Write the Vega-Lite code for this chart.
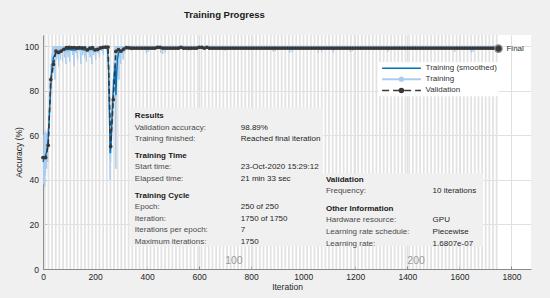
{
 "$schema": "https://vega.github.io/schema/vega-lite/v6.json",
 "width": 488, "height": 234,
 "autosize": {"type": "none"},
 "padding": {"left": 43, "top": 35, "right": 19, "bottom": 29},
 "background": "#f0f0f0",
 "title": {"text": "Training Progress", "anchor": "start", "frame": "group", "dx": 141, "offset": 15, "fontSize": 9.5, "fontWeight": "bold", "font": "Liberation Sans", "color": "#1a1a1a"},
 "config": {
  "view": {"stroke": null, "fill": "#ffffff"},
  "axis": {"labelFont": "Liberation Sans", "labelFontSize": 8.5, "labelColor": "#262626", "titleFont": "Liberation Sans", "titleFontSize": 8.5, "titleFontWeight": "normal", "titleColor": "#262626", "domainColor": "#8a8a8a", "tickColor": "#8a8a8a", "gridColor": "#e0e0e0", "tickSize": -3}
 },
 "datasets": {
  "stripes": [{"x":7},{"x":21},{"x":35},{"x":49},{"x":63},{"x":77},{"x":91},{"x":105},{"x":119},{"x":133},{"x":147},{"x":161},{"x":175},{"x":189},{"x":203},{"x":217},{"x":231},{"x":245},{"x":259},{"x":273},{"x":287},{"x":301},{"x":315},{"x":329},{"x":343},{"x":357},{"x":371},{"x":385},{"x":399},{"x":413},{"x":427},{"x":441},{"x":455},{"x":469},{"x":483},{"x":497},{"x":511},{"x":525},{"x":539},{"x":553},{"x":567},{"x":581},{"x":595},{"x":609},{"x":623},{"x":637},{"x":651},{"x":665},{"x":679},{"x":693},{"x":707},{"x":721},{"x":735},{"x":749},{"x":763},{"x":777},{"x":791},{"x":805},{"x":819},{"x":833},{"x":847},{"x":861},{"x":875},{"x":889},{"x":903},{"x":917},{"x":931},{"x":945},{"x":959},{"x":973},{"x":987},{"x":1001},{"x":1015},{"x":1029},{"x":1043},{"x":1057},{"x":1071},{"x":1085},{"x":1099},{"x":1113},{"x":1127},{"x":1141},{"x":1155},{"x":1169},{"x":1183},{"x":1197},{"x":1211},{"x":1225},{"x":1239},{"x":1253},{"x":1267},{"x":1281},{"x":1295},{"x":1309},{"x":1323},{"x":1337},{"x":1351},{"x":1365},{"x":1379},{"x":1393},{"x":1407},{"x":1421},{"x":1435},{"x":1449},{"x":1463},{"x":1477},{"x":1491},{"x":1505},{"x":1519},{"x":1533},{"x":1547},{"x":1561},{"x":1575},{"x":1589},{"x":1603},{"x":1617},{"x":1631},{"x":1645},{"x":1659},{"x":1673},{"x":1687},{"x":1701},{"x":1715},{"x":1729},{"x":1743}],
  "panels": [{"x": 335, "x2": 1076, "y": 10.2, "y2": 72.5}, {"x": 1076, "x2": 1690, "y": 10.2, "y2": 42.9}],
  "legendbox": [{"x": 1290, "x2": 1750, "y": 77.5, "y2": 92.8}],
  "train": [{"x":0,"y":45},{"x":1,"y":38},{"x":2,"y":52},{"x":3,"y":41},{"x":4,"y":60},{"x":5,"y":44},{"x":6,"y":55},{"x":7,"y":37},{"x":8,"y":62},{"x":9,"y":48},{"x":10,"y":42},{"x":11,"y":57},{"x":12,"y":50},{"x":13,"y":61},{"x":14,"y":45},{"x":15,"y":58},{"x":16,"y":52},{"x":17,"y":63},{"x":18,"y":48},{"x":19,"y":60},{"x":20,"y":56},{"x":21,"y":66},{"x":22,"y":60},{"x":23,"y":72},{"x":24,"y":68},{"x":25,"y":78},{"x":26,"y":74},{"x":27,"y":84},{"x":28,"y":80},{"x":29,"y":88},{"x":30,"y":85},{"x":31,"y":92},{"x":32,"y":86},{"x":33,"y":95},{"x":34,"y":90},{"x":35,"y":97},{"x":36,"y":92},{"x":37,"y":100},{"x":38,"y":94},{"x":39,"y":98},{"x":40,"y":88},{"x":41,"y":100},{"x":42,"y":96},{"x":43,"y":100},{"x":44,"y":93},{"x":45,"y":100},{"x":46,"y":85},{"x":47,"y":100},{"x":48,"y":97},{"x":49,"y":100},{"x":50,"y":95},{"x":52,"y":100},{"x":53,"y":94},{"x":55,"y":100},{"x":57,"y":96},{"x":58,"y":100},{"x":60,"y":91},{"x":61,"y":100},{"x":63,"y":98},{"x":65,"y":100},{"x":67,"y":94},{"x":68,"y":100},{"x":70,"y":97},{"x":72,"y":100},{"x":75,"y":93},{"x":76,"y":100},{"x":79,"y":98},{"x":80,"y":100},{"x":83,"y":95},{"x":84,"y":100},{"x":88,"y":92},{"x":89,"y":100},{"x":92,"y":97},{"x":93,"y":100},{"x":97,"y":95},{"x":98,"y":100},{"x":103,"y":93},{"x":104,"y":100},{"x":108,"y":98},{"x":110,"y":100},{"x":114,"y":96},{"x":115,"y":100},{"x":120,"y":91},{"x":121,"y":100},{"x":126,"y":97},{"x":127,"y":100},{"x":133,"y":94},{"x":134,"y":100},{"x":140,"y":98},{"x":141,"y":100},{"x":146,"y":92},{"x":147,"y":100},{"x":152,"y":96},{"x":153,"y":100},{"x":160,"y":95},{"x":161,"y":100},{"x":167,"y":93},{"x":168,"y":100},{"x":174,"y":97},{"x":175,"y":100},{"x":181,"y":95},{"x":182,"y":100},{"x":188,"y":92},{"x":189,"y":100},{"x":195,"y":96},{"x":196,"y":100},{"x":203,"y":94},{"x":204,"y":100},{"x":210,"y":97},{"x":211,"y":100},{"x":217,"y":95},{"x":218,"y":100},{"x":225,"y":98},{"x":226,"y":100},{"x":232,"y":96},{"x":233,"y":100},{"x":240,"y":100},{"x":245,"y":100},{"x":248,"y":98},{"x":250,"y":95},{"x":252,"y":88},{"x":254,"y":75},{"x":256,"y":60},{"x":257,"y":45},{"x":258,"y":40},{"x":259,"y":55},{"x":260,"y":48},{"x":261,"y":62},{"x":262,"y":52},{"x":263,"y":70},{"x":264,"y":58},{"x":265,"y":75},{"x":266,"y":65},{"x":267,"y":80},{"x":268,"y":72},{"x":269,"y":85},{"x":270,"y":78},{"x":271,"y":90},{"x":272,"y":82},{"x":273,"y":93},{"x":274,"y":86},{"x":275,"y":96},{"x":276,"y":90},{"x":277,"y":100},{"x":278,"y":88},{"x":279,"y":60},{"x":280,"y":45},{"x":281,"y":70},{"x":282,"y":92},{"x":283,"y":100},{"x":284,"y":95},{"x":285,"y":100},{"x":286,"y":90},{"x":287,"y":100},{"x":289,"y":96},{"x":290,"y":100},{"x":292,"y":85},{"x":293,"y":100},{"x":295,"y":95},{"x":296,"y":100},{"x":299,"y":92},{"x":300,"y":100},{"x":303,"y":97},{"x":304,"y":100},{"x":308,"y":94},{"x":309,"y":100},{"x":314,"y":97},{"x":315,"y":100},{"x":339,"y":100},{"x":340,"y":98},{"x":341,"y":100},{"x":396,"y":100},{"x":397,"y":96.8},{"x":398,"y":100},{"x":403,"y":100},{"x":404,"y":97.5},{"x":405,"y":100},{"x":451,"y":100},{"x":452,"y":97},{"x":453,"y":100},{"x":459,"y":100},{"x":460,"y":96.5},{"x":461,"y":100},{"x":469,"y":100},{"x":470,"y":97.3},{"x":471,"y":100},{"x":559,"y":100},{"x":560,"y":98},{"x":561,"y":100},{"x":699,"y":100},{"x":700,"y":98},{"x":701,"y":100},{"x":884,"y":100},{"x":885,"y":97.5},{"x":886,"y":100},{"x":892,"y":100},{"x":893,"y":97.8},{"x":894,"y":100},{"x":947,"y":100},{"x":948,"y":97},{"x":949,"y":100},{"x":957,"y":100},{"x":958,"y":97.3},{"x":959,"y":100},{"x":1057,"y":100},{"x":1058,"y":97},{"x":1059,"y":100},{"x":1069,"y":100},{"x":1070,"y":97.5},{"x":1071,"y":100},{"x":1114,"y":100},{"x":1115,"y":97.2},{"x":1116,"y":100},{"x":1179,"y":100},{"x":1180,"y":97.5},{"x":1181,"y":100},{"x":1187,"y":100},{"x":1188,"y":97.8},{"x":1189,"y":100},{"x":1324,"y":100},{"x":1325,"y":97.5},{"x":1326,"y":100},{"x":1581,"y":100},{"x":1582,"y":97.5},{"x":1583,"y":100},{"x":1644,"y":100},{"x":1645,"y":97.2},{"x":1646,"y":100},{"x":1652,"y":100},{"x":1653,"y":97.5},{"x":1654,"y":100},{"x":1750,"y":100}],
  "smooth": [{"x":0,"y":48},{"x":5,"y":50},{"x":10,"y":51},{"x":15,"y":53},{"x":20,"y":58},{"x":25,"y":70},{"x":30,"y":82},{"x":35,"y":91},{"x":40,"y":95},{"x":45,"y":96},{"x":50,"y":97},{"x":60,"y":97.5},{"x":70,"y":98},{"x":80,"y":98.5},{"x":100,"y":98.5},{"x":120,"y":98.2},{"x":140,"y":98.8},{"x":160,"y":98.2},{"x":180,"y":98.6},{"x":200,"y":98.3},{"x":220,"y":98.8},{"x":240,"y":99.4},{"x":248,"y":98.5},{"x":252,"y":90},{"x":256,"y":65},{"x":258,"y":52},{"x":262,"y":58},{"x":266,"y":70},{"x":270,"y":80},{"x":274,"y":88},{"x":278,"y":91},{"x":280,"y":78},{"x":282,"y":84},{"x":286,"y":94},{"x":290,"y":97},{"x":300,"y":98},{"x":320,"y":99.2},{"x":400,"y":99.3},{"x":1750,"y":99.3}],
  "valid": [{"x":0,"y":50},{"x":10,"y":50},{"x":20,"y":55.5},{"x":30,"y":85},{"x":40,"y":91.8},{"x":50,"y":97.8},{"x":60,"y":97.2},{"x":70,"y":97.8},{"x":80,"y":98.6},{"x":90,"y":99.3},{"x":100,"y":99.4},{"x":110,"y":99.3},{"x":120,"y":99.3},{"x":130,"y":99.2},{"x":140,"y":99.3},{"x":150,"y":99.2},{"x":160,"y":99.2},{"x":170,"y":98.3},{"x":180,"y":99.1},{"x":190,"y":99.3},{"x":200,"y":98.3},{"x":210,"y":98.5},{"x":220,"y":99.2},{"x":230,"y":99.5},{"x":240,"y":99.6},{"x":250,"y":99.6},{"x":260,"y":55},{"x":270,"y":76},{"x":280,"y":97.6},{"x":290,"y":98.4},{"x":300,"y":97.8},{"x":310,"y":98.7},{"x":320,"y":99.3},{"x":330,"y":99.2},{"x":340,"y":99.1},{"x":350,"y":99.1},{"x":360,"y":99.1},{"x":370,"y":99.1},{"x":380,"y":99.1},{"x":390,"y":99.1},{"x":400,"y":99.1},{"x":410,"y":99.1},{"x":420,"y":99.1},{"x":430,"y":99.1},{"x":440,"y":99.5},{"x":450,"y":99.4},{"x":460,"y":99.1},{"x":470,"y":99.1},{"x":480,"y":99.1},{"x":490,"y":99.1},{"x":500,"y":99.1},{"x":510,"y":99.1},{"x":520,"y":99.1},{"x":530,"y":99.5},{"x":540,"y":99.1},{"x":550,"y":99.1},{"x":560,"y":99.1},{"x":570,"y":99.1},{"x":580,"y":99.1},{"x":590,"y":99.1},{"x":600,"y":99.5},{"x":610,"y":99.4},{"x":620,"y":99.1},{"x":630,"y":99.5},{"x":640,"y":99.1},{"x":650,"y":99.1},{"x":660,"y":99.1},{"x":670,"y":99.1},{"x":680,"y":99.1},{"x":690,"y":99.1},{"x":700,"y":99.1},{"x":710,"y":99.1},{"x":720,"y":99.1},{"x":730,"y":99.1},{"x":740,"y":99.1},{"x":750,"y":99.1},{"x":760,"y":99.1},{"x":770,"y":99.1},{"x":780,"y":99.1},{"x":790,"y":99.1},{"x":800,"y":99.1},{"x":810,"y":99.1},{"x":820,"y":99.1},{"x":830,"y":99.1},{"x":840,"y":99.1},{"x":850,"y":99.1},{"x":860,"y":99.1},{"x":870,"y":99.1},{"x":880,"y":99.1},{"x":890,"y":99.1},{"x":900,"y":99.1},{"x":910,"y":99.1},{"x":920,"y":99.1},{"x":930,"y":99.1},{"x":940,"y":99.1},{"x":950,"y":99.1},{"x":960,"y":99.1},{"x":970,"y":99.1},{"x":980,"y":99.1},{"x":990,"y":99.1},{"x":1000,"y":99.1},{"x":1010,"y":99.1},{"x":1020,"y":99.1},{"x":1030,"y":99.1},{"x":1040,"y":99.1},{"x":1050,"y":99.1},{"x":1060,"y":99.1},{"x":1070,"y":99.1},{"x":1080,"y":99.1},{"x":1090,"y":99.1},{"x":1100,"y":99.1},{"x":1110,"y":99.1},{"x":1120,"y":99.1},{"x":1130,"y":99.1},{"x":1140,"y":99.1},{"x":1150,"y":99.1},{"x":1160,"y":99.1},{"x":1170,"y":99.1},{"x":1180,"y":99.1},{"x":1190,"y":99.1},{"x":1200,"y":99.1},{"x":1210,"y":99.1},{"x":1220,"y":99.1},{"x":1230,"y":99.1},{"x":1240,"y":99.1},{"x":1250,"y":99.1},{"x":1260,"y":99.1},{"x":1270,"y":99.1},{"x":1280,"y":99.1},{"x":1290,"y":99.1},{"x":1300,"y":99.1},{"x":1310,"y":99.1},{"x":1320,"y":99.1},{"x":1330,"y":99.1},{"x":1340,"y":99.1},{"x":1350,"y":99.1},{"x":1360,"y":99.1},{"x":1370,"y":99.1},{"x":1380,"y":99.1},{"x":1390,"y":99.1},{"x":1400,"y":99.1},{"x":1410,"y":99.1},{"x":1420,"y":99.1},{"x":1430,"y":99.1},{"x":1440,"y":99.1},{"x":1450,"y":99.1},{"x":1460,"y":99.1},{"x":1470,"y":99.1},{"x":1480,"y":99.1},{"x":1490,"y":99.1},{"x":1500,"y":99.1},{"x":1510,"y":99.1},{"x":1520,"y":99.1},{"x":1530,"y":99.1},{"x":1540,"y":99.1},{"x":1550,"y":99.1},{"x":1560,"y":99.1},{"x":1570,"y":99.1},{"x":1580,"y":99.1},{"x":1590,"y":99.1},{"x":1600,"y":99.1},{"x":1610,"y":99.1},{"x":1620,"y":99.1},{"x":1630,"y":99.1},{"x":1640,"y":99.1},{"x":1650,"y":99.1},{"x":1660,"y":99.1},{"x":1670,"y":99.1},{"x":1680,"y":99.1},{"x":1690,"y":99.1},{"x":1700,"y":99.1},{"x":1710,"y":99.1},{"x":1720,"y":99.1},{"x":1730,"y":99.1},{"x":1740,"y":99.1},{"x":1750,"y":98.89}],
  "final": [{"x": 1750, "y": 98.89, "t": "Final"}],
  "legend": [{"k": "smoothed", "y": 90.1, "t": "Training (smoothed)"}, {"k": "training", "y": 85.2, "t": "Training"}, {"k": "validation", "y": 80.1, "t": "Validation"}],
  "epochs": [{"x": 700, "t": "100"}, {"x": 1400, "t": "200"}],
  "info": [
   {"kind":"head","t":"Results","x":353,"y":68.6},
   {"kind":"label","t":"Validation accuracy:","x":353,"y":63.4},
   {"kind":"value","t":"98.89%","x":760,"y":63.4},
   {"kind":"label","t":"Training finished:","x":353,"y":58.3},
   {"kind":"value","t":"Reached final iteration","x":760,"y":58.3},
   {"kind":"head","t":"Training Time","x":353,"y":50.8},
   {"kind":"label","t":"Start time:","x":353,"y":45.6},
   {"kind":"value","t":"23-Oct-2020 15:29:12","x":760,"y":45.6},
   {"kind":"label","t":"Elapsed time:","x":353,"y":40.5},
   {"kind":"value","t":"21 min 33 sec","x":760,"y":40.5},
   {"kind":"head","t":"Training Cycle","x":353,"y":32.7},
   {"kind":"label","t":"Epoch:","x":353,"y":27.6},
   {"kind":"value","t":"250 of 250","x":760,"y":27.6},
   {"kind":"label","t":"Iteration:","x":353,"y":22.5},
   {"kind":"value","t":"1750 of 1750","x":760,"y":22.5},
   {"kind":"label","t":"Iterations per epoch:","x":353,"y":17.4},
   {"kind":"value","t":"7","x":760,"y":17.4},
   {"kind":"label","t":"Maximum iterations:","x":353,"y":12.3},
   {"kind":"value","t":"1750","x":760,"y":12.3},
   {"kind":"head","t":"Validation","x":1087,"y":39.9},
   {"kind":"label","t":"Frequency:","x":1087,"y":34.8},
   {"kind":"value","t":"10 iterations","x":1497,"y":34.8},
   {"kind":"head","t":"Other Information","x":1087,"y":27.0},
   {"kind":"label","t":"Hardware resource:","x":1087,"y":21.9},
   {"kind":"value","t":"GPU","x":1497,"y":21.9},
   {"kind":"label","t":"Learning rate schedule:","x":1087,"y":16.6},
   {"kind":"value","t":"Piecewise","x":1497,"y":16.6},
   {"kind":"label","t":"Learning rate:","x":1087,"y":11.4},
   {"kind":"value","t":"1.6807e-07","x":1497,"y":11.4}
  ]
 },
 "layer": [
  {
   "data": {"name": "stripes"},
   "mark": {"type": "rule", "color": "#e3e3e3", "strokeWidth": 1.8},
   "encoding": {
    "x": {"field": "x", "type": "quantitative", "scale": {"domain": [0, 1875], "nice": false}, "title": "Iteration",
          "axis": {"title": "Iteration", "values": [0,200,400,600,800,1000,1200,1400,1600,1800], "format": "d", "grid": true, "labelPadding": 6, "titlePadding": 2, "labelFlush": false}}
   }
  },
  {
   "data": {"name": "panels"},
   "mark": {"type": "rect", "fill": "#f0f0f0"},
   "encoding": {
    "x": {"field": "x", "type": "quantitative", "title": "Iteration"},
    "x2": {"field": "x2"},
    "y": {"field": "y", "type": "quantitative", "scale": {"domain": [0, 105], "nice": false}, "title": "Accuracy (%)",
          "axis": {"title": "Accuracy (%)", "values": [0,10,20,30,40,50,60,70,80,90,100], "grid": true, "labelPadding": 7.5, "titlePadding": 1}},
    "y2": {"field": "y2"}
   }
  },
  {
   "data": {"name": "legendbox"},
   "mark": {"type": "rect", "fill": "#ffffff"},
   "encoding": {
    "x": {"field": "x", "type": "quantitative", "title": "Iteration"},
    "x2": {"field": "x2"},
    "y": {"field": "y", "type": "quantitative", "title": "Accuracy (%)"},
    "y2": {"field": "y2"}
   }
  },
  {
   "data": {"name": "train"},
   "mark": {"type": "line", "color": "#a9cdee", "strokeWidth": 1, "clip": true},
   "encoding": {
    "x": {"field": "x", "type": "quantitative", "title": "Iteration"},
    "y": {"field": "y", "type": "quantitative", "title": "Accuracy (%)"}
   }
  },
  {
   "data": {"name": "smooth"},
   "mark": {"type": "line", "color": "#0072bd", "strokeWidth": 1.4},
   "encoding": {
    "x": {"field": "x", "type": "quantitative", "title": "Iteration"},
    "y": {"field": "y", "type": "quantitative", "title": "Accuracy (%)"}
   }
  },
  {
   "data": {"name": "valid"},
   "mark": {"type": "line", "color": "#383838", "strokeWidth": 1.6, "strokeDash": [5, 3], "point": {"filled": true, "color": "#383838", "size": 14}},
   "encoding": {
    "x": {"field": "x", "type": "quantitative", "title": "Iteration"},
    "y": {"field": "y", "type": "quantitative", "title": "Accuracy (%)"}
   }
  },
  {
   "data": {"name": "final"},
   "mark": {"type": "point", "filled": true, "fill": "#3a3a3a", "stroke": "#8c8c8c", "strokeWidth": 1.2, "size": 55, "opacity": 1},
   "encoding": {
    "x": {"field": "x", "type": "quantitative", "title": "Iteration"},
    "y": {"field": "y", "type": "quantitative", "title": "Accuracy (%)"}
   }
  },
  {
   "data": {"name": "final"},
   "mark": {"type": "text", "align": "left", "baseline": "middle", "dx": 8, "font": "Liberation Sans", "fontSize": 8, "color": "#333333"},
   "encoding": {
    "x": {"field": "x", "type": "quantitative", "title": "Iteration"},
    "y": {"field": "y", "type": "quantitative", "title": "Accuracy (%)"},
    "text": {"field": "t"}
   }
  },
  {
   "data": {"name": "legend"},
   "transform": [{"filter": "datum.k == 'smoothed'"}],
   "mark": {"type": "rule", "color": "#0072bd", "strokeWidth": 1.4},
   "encoding": {
    "x": {"datum": 1303, "type": "quantitative"},
    "x2": {"datum": 1452},
    "y": {"field": "y", "type": "quantitative", "title": "Accuracy (%)"}
   }
  },
  {
   "data": {"name": "legend"},
   "transform": [{"filter": "datum.k == 'training'"}],
   "mark": {"type": "rule", "color": "#a9cdee", "strokeWidth": 2},
   "encoding": {
    "x": {"datum": 1303, "type": "quantitative"},
    "x2": {"datum": 1452},
    "y": {"field": "y", "type": "quantitative", "title": "Accuracy (%)"}
   }
  },
  {
   "data": {"name": "legend"},
   "transform": [{"filter": "datum.k == 'training'"}],
   "mark": {"type": "point", "filled": true, "color": "#a9cdee", "size": 28, "opacity": 1},
   "encoding": {
    "x": {"datum": 1377, "type": "quantitative"},
    "y": {"field": "y", "type": "quantitative", "title": "Accuracy (%)"}
   }
  },
  {
   "data": {"name": "legend"},
   "transform": [{"filter": "datum.k == 'validation'"}],
   "mark": {"type": "rule", "color": "#383838", "strokeWidth": 1.6, "strokeDash": [7, 4]},
   "encoding": {
    "x": {"datum": 1303, "type": "quantitative"},
    "x2": {"datum": 1452},
    "y": {"field": "y", "type": "quantitative", "title": "Accuracy (%)"}
   }
  },
  {
   "data": {"name": "legend"},
   "transform": [{"filter": "datum.k == 'validation'"}],
   "mark": {"type": "point", "filled": true, "color": "#383838", "size": 30, "opacity": 1},
   "encoding": {
    "x": {"datum": 1377, "type": "quantitative"},
    "y": {"field": "y", "type": "quantitative", "title": "Accuracy (%)"}
   }
  },
  {
   "data": {"name": "legend"},
   "mark": {"type": "text", "align": "left", "baseline": "middle", "font": "Liberation Sans", "fontSize": 8, "color": "#333333"},
   "encoding": {
    "x": {"datum": 1470, "type": "quantitative"},
    "y": {"field": "y", "type": "quantitative", "title": "Accuracy (%)"},
    "text": {"field": "t"}
   }
  },
  {
   "data": {"name": "info"},
   "transform": [{"filter": "datum.kind == 'head'"}],
   "mark": {"type": "text", "align": "left", "baseline": "middle", "font": "Liberation Sans", "fontSize": 8, "fontWeight": "bold", "color": "#1a1a1a"},
   "encoding": {
    "x": {"field": "x", "type": "quantitative", "title": "Iteration"},
    "y": {"field": "y", "type": "quantitative", "title": "Accuracy (%)"},
    "text": {"field": "t"}
   }
  },
  {
   "data": {"name": "info"},
   "transform": [{"filter": "datum.kind == 'label'"}],
   "mark": {"type": "text", "align": "left", "baseline": "middle", "font": "Liberation Sans", "fontSize": 8, "color": "#4a4a4a"},
   "encoding": {
    "x": {"field": "x", "type": "quantitative", "title": "Iteration"},
    "y": {"field": "y", "type": "quantitative", "title": "Accuracy (%)"},
    "text": {"field": "t"}
   }
  },
  {
   "data": {"name": "info"},
   "transform": [{"filter": "datum.kind == 'value'"}],
   "mark": {"type": "text", "align": "left", "baseline": "middle", "font": "Liberation Sans", "fontSize": 8, "color": "#262626"},
   "encoding": {
    "x": {"field": "x", "type": "quantitative", "title": "Iteration"},
    "y": {"field": "y", "type": "quantitative", "title": "Accuracy (%)"},
    "text": {"field": "t"}
   }
  },
  {
   "data": {"name": "epochs"},
   "mark": {"type": "text", "align": "left", "baseline": "middle", "font": "Liberation Sans", "fontSize": 10.5, "color": "#9a9a9a"},
   "encoding": {
    "x": {"field": "x", "type": "quantitative", "title": "Iteration"},
    "y": {"datum": 3.7, "type": "quantitative"},
    "text": {"field": "t"}
   }
  }
 ]
}
